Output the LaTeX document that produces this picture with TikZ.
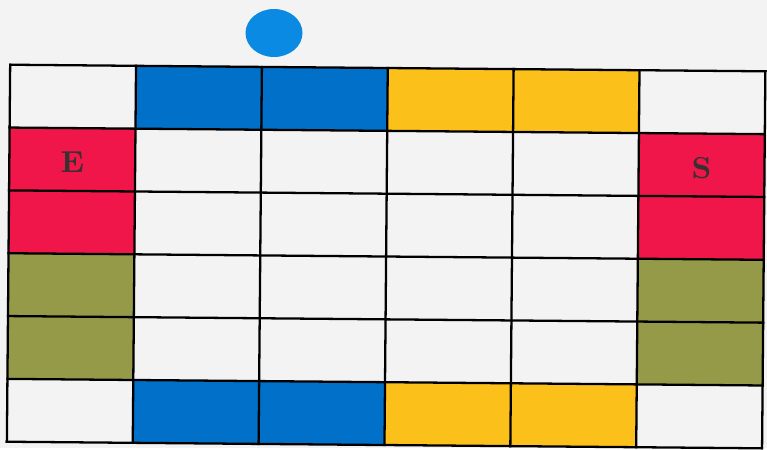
\documentclass[tikz,border=0pt]{standalone}
\usepackage{tikz}
\usetikzlibrary{positioning,calc}
\definecolor{paper}{HTML}{F3F3F3}
\definecolor{tileblue}{HTML}{0070C8}
\definecolor{tileyellow}{HTML}{FCC01A}
\definecolor{tilered}{HTML}{F0164A}
\definecolor{tileolive}{HTML}{959A48}
\definecolor{dotblue}{HTML}{0A8AE2}
\definecolor{inkgray}{HTML}{3A3032}
\begin{document}
\begin{tikzpicture}[x=0.01cm, y=-0.01cm,
    gridline/.style={draw=black, line width=0.65pt, line cap=rect},
    tag/.style={text=inkgray, font=\fontsize{8.6}{10}\selectfont\bfseries}]
    % page
    \fill[paper] (0,0) rectangle (767,448);
    % marker above the board
    \fill[dotblue] (274,33) ellipse [x radius=28.5, y radius=24];
    \begin{scope}[rotate around={-0.5:(386,256)}]
    \begin{scope}[shift={(8.5,68)}, x=1.258cm, y=-0.628cm]
    % top row
    \fill[tileblue] (1,0) rectangle (3,1);
    \fill[tileyellow] (3,0) rectangle (5,1);
    % bottom row
    \fill[tileblue] (1,5) rectangle (3,6);
    \fill[tileyellow] (3,5) rectangle (5,6);
    % left column
    \fill[tilered] (0,1) rectangle (1,3);
    \fill[tileolive] (0,3) rectangle (1,5);
    % right column
    \fill[tilered] (5,1) rectangle (6,3);
    \fill[tileolive] (5,3) rectangle (6,5);
    % grid
    \foreach \i in {0,...,6} {
      \draw[gridline] (\i,0) -- (\i,6);
      \draw[gridline] (0,\i) -- (6,\i);
    }
    % labels
    \node[tag] (entry) at (0.5,1.55) {E};
    \node[tag] (stop) at (5.5,1.55) {S};
    \end{scope}
    \end{scope}
\end{tikzpicture}
\end{document}
